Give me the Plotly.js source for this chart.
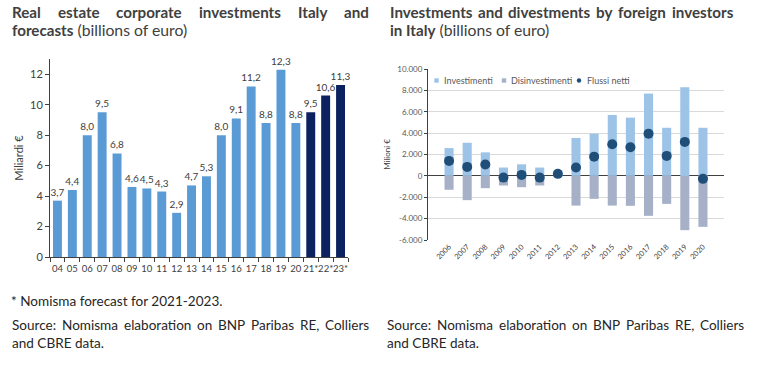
<!DOCTYPE html>
<html><head><meta charset="utf-8">
<script src="https://cdn.plot.ly/plotly-3.0.1.min.js"></script>
<style>html,body{margin:0;padding:0;background:#fff}#chart{width:768px;height:381px}</style>
</head><body><div id="chart"></div>
<script>
// ---- Left chart data (billions of euro)
const histYears = ["04","05","06","07","08","09","10","11","12","13","14","15","16","17","18","19","20"];
const histValues = [3.7,4.4,8.0,9.5,6.8,4.6,4.5,4.3,2.9,4.7,5.3,8.0,9.1,11.2,8.8,12.3,8.8];
const forecastYears = ["21*","22*","23*"];
const forecastValues = [9.5,10.6,11.3];

// ---- Right chart data (millions of euro)
const years = ["2006","2007","2008","2009","2010","2011","2012","2013","2014","2015","2016","2017","2018","2019","2020"];
const investimenti = [2600,3100,2200,780,1080,780,300,3550,3950,5700,5450,7700,4500,8300,4500];
const disinvestimenti = [-1300,-2270,-1150,-900,-1060,-900,-100,-2780,-2150,-2780,-2800,-3740,-2620,-5080,-4770];
const flussiNetti = [1400,840,1060,-160,90,-160,190,780,1800,2960,2680,3950,1870,3180,-280];
const rightTickVals = [-6000,-4000,-2000,0,2000,4000,6000,8000,10000];
const rightTickText = ["-6.000","-4.000","-2.000","0","2.000","4.000","6.000","8.000","10.000"];
const seriesNames = ["Investimenti","Disinvestimenti","Flussi netti"];

const W = 768, H = 381;
const px = x => x / W;
const py = y => 1 - y / H;
const FONT = "Lato, 'Open Sans', sans-serif";

const ctx = document.createElement('canvas').getContext('2d');
function measure(text, size, bold) {
  ctx.font = (bold ? 'bold ' : '') + size + 'px Lato';
  return ctx.measureText(text).width;
}
function fitSize(text, target, bold) {
  return 12 * target / measure(text, 12, bold);
}
const annotations = [];
const shapes = [];
function justified(text, x0, x1, y, size, bold, color) {
  const words = text.split(' ');
  const widths = words.map(w => measure(w, size, bold));
  const total = widths.reduce((a, b) => a + b, 0);
  const gap = (x1 - x0 - total) / (words.length - 1);
  let x = x0;
  words.forEach((w, i) => {
    annotations.push({xref:'paper', yref:'paper', x:px(x), y:py(y), xanchor:'left', yanchor:'middle',
      text: bold ? '<b>' + w + '</b>' : w, showarrow:false, font:{family:FONT, size:size, color:color}});
    x += widths[i] + gap;
  });
}
function plain(text, x, y, size, color) {
  annotations.push({xref:'paper', yref:'paper', x:px(x), y:py(y), xanchor:'left', yanchor:'middle',
    text:text, showarrow:false, font:{family:FONT, size:size, color:color}});
}

const titleColor = '#404040';
const bSize = fitSize('investments', 82, true);
const rSize = fitSize('(billions of euro)', 110, false);
justified('Real estate corporate investments Italy and', 10, 367, 12, bSize, true, titleColor);
annotations.push({xref:'paper', yref:'paper', x:px(10), y:py(30), xanchor:'left', yanchor:'middle', showarrow:false,
  text:'<span style="font-size:' + bSize + 'px"><b>forecasts</b></span> (billions of euro)', font:{family:FONT, size:rSize, color:titleColor}});
justified('Investments and divestments by foreign investors', 388, 731, 12, bSize, true, titleColor);
annotations.push({xref:'paper', yref:'paper', x:px(388), y:py(30), xanchor:'left', yanchor:'middle', showarrow:false,
  text:'<span style="font-size:' + bSize + 'px"><b>in Italy</b></span> (billions of euro)', font:{family:FONT, size:rSize, color:titleColor}});

const fSize = fitSize('* Nomisma forecast for 2021-2023.', 212, false);
const noteColor = '#262626';
plain('* Nomisma forecast for 2021-2023.', 9, 301, fSize, noteColor);
justified('Source: Nomisma elaboration on BNP Paribas RE, Colliers', 10, 367, 325, fSize, false, noteColor);
plain('and CBRE data.', 10, 343, fSize, noteColor);
justified('Source: Nomisma elaboration on BNP Paribas RE, Colliers', 385, 742, 325, fSize, false, noteColor);
plain('and CBRE data.', 385, 343, fSize, noteColor);

// ---- legend for the right chart
const legColors = ['#9DC3E6', '#A6B1C8', '#1F4E79'];
const legSym = [436.5, 504, 579];
const legText = [442, 509, 585];
const legY = 80.5;
const lSize = 9;
seriesNames.forEach((n, i) => {
  const c = legSym[i];
  shapes.push({type: i === 2 ? 'circle' : 'rect', xref:'paper', yref:'paper',
    x0:px(c - 2.2), x1:px(c + 2.2), y0:py(legY + 2.2), y1:py(legY - 2.2),
    fillcolor:legColors[i], line:{width:0}});
  plain(n, legText[i], legY, lSize, '#595959');
});

const traces = [
  {type:'bar', x:histYears, y:histValues, xaxis:'x', yaxis:'y', marker:{color:'#5B9BD5'}, width:0.6,
   texttemplate:'%{y:.1f}', textposition:'outside', constraintext:'none', cliponaxis:false,
   textfont:{family:FONT, size:10, color:'#404040'}, showlegend:false, hoverinfo:'skip'},
  {type:'bar', x:forecastYears, y:forecastValues, xaxis:'x', yaxis:'y', marker:{color:'#0B2160'}, width:0.6,
   texttemplate:'%{y:.1f}', textposition:'outside', constraintext:'none', cliponaxis:false,
   textfont:{family:FONT, size:10, color:'#404040'}, showlegend:false, hoverinfo:'skip'},
  {type:'bar', name:seriesNames[0], x:years, y:investimenti, xaxis:'x2', yaxis:'y2', marker:{color:legColors[0]}, width:0.5, showlegend:false},
  {type:'bar', name:seriesNames[1], x:years, y:disinvestimenti, xaxis:'x2', yaxis:'y2', marker:{color:legColors[1]}, width:0.5, showlegend:false},
  {type:'scatter', mode:'markers', name:seriesNames[2], x:years, y:flussiNetti, xaxis:'x2', yaxis:'y2',
   marker:{color:legColors[2], size:10}, showlegend:false}
];

const layout = {
  width: W, height: H,
  margin: {l:0, r:0, t:0, b:0},
  paper_bgcolor:'#fff', plot_bgcolor:'rgba(0,0,0,0)',
  separators: ',.',
  barmode: 'relative',
  font: {family: FONT, color:'#404040'},
  showlegend: false,
  xaxis: {domain:[px(50), px(348)], anchor:'y', type:'category',
    categoryorder:'array', categoryarray: histYears.concat(forecastYears),
    showline:true, linecolor:'#404040', linewidth:1, ticks:'outside', tickson:'boundaries', ticklen:4, tickcolor:'#404040',
    ticklabelstandoff:3,
    tickangle:0, tickfont:{family:FONT, size:9.5, color:'#404040'}, showgrid:false, zeroline:false, automargin:false},
  yaxis: {domain:[py(257), py(59)], anchor:'x', range:[0,13], tickvals:[0,2,4,6,8,10,12],
    showline:true, linecolor:'#404040', linewidth:1, ticks:'outside', ticklen:4, tickcolor:'#404040',
    tickfont:{family:FONT, size:11, color:'#404040'}, showgrid:false, zeroline:false, automargin:false,
    title:{text:'Miliardi €', font:{family:FONT, size:11, color:'#404040'}, standoff:4}},
  xaxis2: {domain:[px(428), px(724)], anchor:'y2', type:'category', showline:false, ticks:'',
    tickangle:-45, tickfont:{family:FONT, size:7.5, color:'#404040'}, showgrid:false, zeroline:false, automargin:false},
  yaxis2: {domain:[py(240), py(69)], anchor:'x2', range:[-6000,10000], tickvals:rightTickVals, ticktext:rightTickText,
    showline:true, linecolor:'#404040', linewidth:1, ticks:'outside', ticklen:3, tickcolor:'#404040',
    showgrid:true, gridcolor:'#D9D9D9', gridwidth:1, zeroline:true, zerolinecolor:'#404040', zerolinewidth:1,
    tickfont:{family:FONT, size:8, color:'#595959'}, automargin:false,
    title:{text:'Milioni €', font:{family:FONT, size:8, color:'#404040'}, standoff:5}},
  shapes: shapes,
  annotations: annotations
};

Plotly.newPlot('chart', traces, layout, {displayModeBar:false, staticPlot:true});
</script>
</body></html>
